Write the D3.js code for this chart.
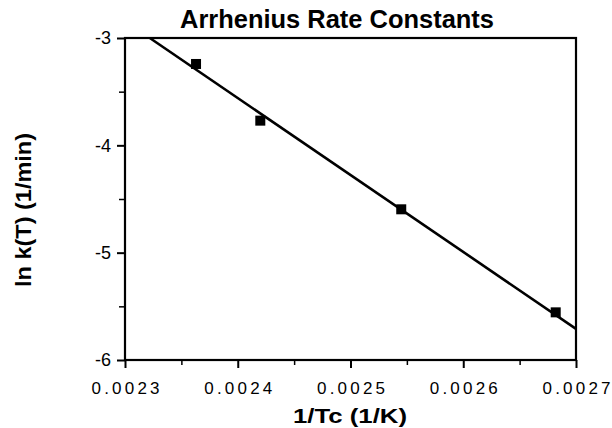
<!DOCTYPE html>
<html>
<head>
<meta charset="utf-8">
<script src="https://cdn.jsdelivr.net/npm/d3@7"></script>
<style>
  body { margin: 0; background: #fff; }
  text { font-family: "Liberation Sans", Arial, Helvetica, sans-serif; fill: #000; }
</style>
</head>
<body>
<div id="chart"></div>
<script>
// measured points, 1/Tc (1/K) vs ln k(T) (1/min)
var inv_temp = [0.002363, 0.002420, 0.002545, 0.002682];
var ln_k = [-3.242, -3.770, -4.596, -5.556];

// fitted line at its two ends
var fit_x = [0.002322, 0.0027];
var fit_y = [-3.0, -5.71];

var x_ticks = [0.0023, 0.0024, 0.0025, 0.0026, 0.0027];
var x_minor = [0.00235, 0.00245, 0.00255, 0.00265];
var y_ticks = [-6, -5, -4, -3];
var y_minor = [-5.5, -4.5, -3.5];

var chart_width = 612;
var chart_height = 428;
// plot box edges (note: "top" is taken by window.top)
var plot_left = 125, plot_right = 576, plot_top = 38, plot_bottom = 360;

var svg = d3.select('#chart')
  .append('svg')
  .attr('width', chart_width)
  .attr('height', chart_height);

var x_scale = d3.scaleLinear()
  .domain([0.0023, 0.0027])
  .range([plot_left, plot_right]);

var y_scale = d3.scaleLinear()
  .domain([-6, -3])
  .range([plot_bottom, plot_top]);

// frame
svg.append('rect')
  .attr('x', plot_left)
  .attr('y', plot_top)
  .attr('width', plot_right - plot_left)
  .attr('height', plot_bottom - plot_top)
  .attr('fill', 'none')
  .attr('stroke', '#000')
  .attr('stroke-width', 2.2);

// x axis
var x_axis = d3.axisBottom(x_scale)
  .tickValues(x_ticks)
  .tickSize(8)
  .tickPadding(14)
  .tickFormat(d3.format('.4f'));
var gx = svg.append('g')
  .attr('class', 'x-axis')
  .attr('transform', 'translate(0,' + plot_bottom + ')')
  .call(x_axis);
gx.select('.domain').remove();
gx.selectAll('line').attr('stroke-width', 2);
gx.selectAll('text')
  .attr('font-size', 17)
  .attr('textLength', 68)
  .attr('lengthAdjust', 'spacing');

svg.append('g')
  .attr('transform', 'translate(0,' + plot_bottom + ')')
  .call(d3.axisBottom(x_scale).tickValues(x_minor).tickSize(5).tickFormat(''))
  .call(function(g) { g.select('.domain').remove(); })
  .selectAll('line').attr('stroke-width', 1.5);

// y axis, plain hyphen for the minus sign as in the original
var y_axis = d3.axisLeft(y_scale)
  .tickValues(y_ticks)
  .tickSize(8)
  .tickPadding(6)
  .tickFormat(function(d) { return String(d); });
var gy = svg.append('g')
  .attr('class', 'y-axis')
  .attr('transform', 'translate(' + plot_left + ',0)')
  .call(y_axis);
gy.select('.domain').remove();
gy.selectAll('line').attr('stroke-width', 2);
gy.selectAll('text').attr('font-size', 18);

svg.append('g')
  .attr('transform', 'translate(' + plot_left + ',0)')
  .call(d3.axisLeft(y_scale).tickValues(y_minor).tickSize(6).tickFormat(''))
  .call(function(g) { g.select('.domain').remove(); })
  .selectAll('line').attr('stroke-width', 1.5);

// fitted line
svg.append('line')
  .attr('x1', x_scale(fit_x[0]))
  .attr('y1', y_scale(fit_y[0]))
  .attr('x2', x_scale(fit_x[1]))
  .attr('y2', y_scale(fit_y[1]))
  .attr('stroke', '#000')
  .attr('stroke-width', 2.6);

// square markers
var size = 10;
svg.append('g')
  .selectAll('rect')
  .data(inv_temp)
  .enter()
  .append('rect')
  .attr('x', function(d) { return x_scale(d) - size / 2; })
  .attr('y', function(d, i) { return y_scale(ln_k[i]) - size / 2; })
  .attr('width', size)
  .attr('height', size)
  .attr('fill', '#000');

// titles
svg.append('text')
  .attr('x', 337)
  .attr('y', 28)
  .attr('text-anchor', 'middle')
  .attr('font-size', 25)
  .attr('font-weight', 'bold')
  .attr('textLength', 314)
  .attr('lengthAdjust', 'spacingAndGlyphs')
  .text('Arrhenius Rate Constants');

svg.append('text')
  .attr('x', 350)
  .attr('y', 423)
  .attr('text-anchor', 'middle')
  .attr('font-size', 21)
  .attr('font-weight', 'bold')
  .attr('textLength', 114)
  .attr('lengthAdjust', 'spacingAndGlyphs')
  .text('1/Tc (1/K)');

svg.append('text')
  .attr('transform', 'translate(31,210) rotate(-90)')
  .attr('text-anchor', 'middle')
  .attr('font-size', 22)
  .attr('font-weight', 'bold')
  .attr('textLength', 154)
  .attr('lengthAdjust', 'spacingAndGlyphs')
  .text('ln k(T) (1/min)');
</script>
</body>
</html>
